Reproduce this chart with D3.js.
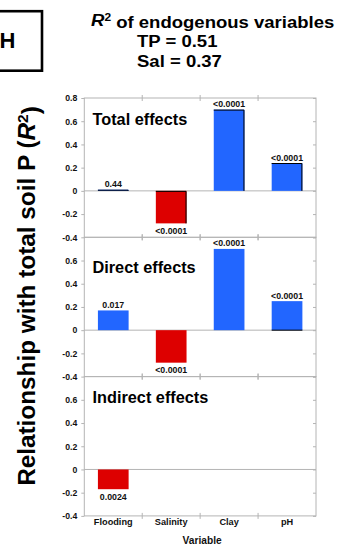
<!DOCTYPE html>
<html>
<head>
<meta charset="utf-8">
<script src="https://cdn.jsdelivr.net/npm/d3@7"></script>
<style>
  html, body { margin: 0; padding: 0; background: #fff; }
  svg { display: block; font-family: "Liberation Sans", Arial, sans-serif; font-weight: bold; }
</style>
</head>
<body>
<svg id="chart" width="351" height="548"></svg>
<script>
// Path-model effects on total soil P, one series per panel
const categories = ["Flooding", "Salinity", "Clay", "pH"];
const panelNames = ["Total effects", "Direct effects", "Indirect effects"];
const totalEffects = [0.01, -0.28, 0.70, 0.24];
const directEffects = [0.17, -0.28, 0.70, 0.25];
const indirectEffects = [-0.17, null, null, null];
const totalP = ["0.44", "<0.0001", "<0.0001", "<0.0001"];
const directP = ["0.017", "<0.0001", "<0.0001", "<0.0001"];
const indirectP = ["0.0024", null, null, null];
const yTicksFirst = [0.8, 0.6, 0.4, 0.2, 0, -0.2, -0.4];
const yTicksRest = [0.6, 0.4, 0.2, 0, -0.2, -0.4];
const r2Names = ["TP", "Sal"];
const r2Values = ["0.51", "0.37"];
const panelLetter = "H";

const series = [totalEffects, directEffects, indirectEffects];
const pLabels = [totalP, directP, indirectP];

const svg = d3.select("#chart");
const BLUE = "#2266ff", RED = "#dd0000", GRID = "#b4b4b4";

const left = 84.3, right = 316, top0 = 98, ph = 139.3;
const titleOffsets = [27, 35.8, 26.5];

const x = d3.scaleBand().domain(categories).range([left, right])
  .paddingInner(0.47).paddingOuter(0.235);
const bounds = categories.slice(1).map(c => x(c) - x.step() * x.paddingInner() / 2);

const fmt = d => d === 0 ? "0" : d.toFixed(1);

series.forEach((vals, i) => {
  const top = top0 + i * ph;
  const y = d3.scaleLinear().domain([-0.4, 0.8]).range([top + ph, top]);
  const g = svg.append("g");

  // frame
  g.append("rect").attr("x", left).attr("y", top).attr("width", right - left).attr("height", ph)
    .attr("fill", "none").attr("stroke", GRID).attr("stroke-width", 1);

  // zero line
  g.append("line").attr("x1", left).attr("x2", right).attr("y1", y(0)).attr("y2", y(0))
    .attr("stroke", GRID).attr("stroke-width", 1);

  // left axis with labels
  const ax = g.append("g").attr("transform", `translate(${left},0)`)
    .call(d3.axisLeft(y).tickValues(i === 0 ? yTicksFirst : yTicksRest)
      .tickFormat(fmt).tickSize(3).tickSizeOuter(0).tickPadding(4));
  ax.select(".domain").remove();
  ax.selectAll(".tick line").attr("stroke", GRID);
  ax.selectAll(".tick text").attr("fill", "#111").style("font-size", "8.7px")
    .style("font-family", "'Liberation Sans', Arial, sans-serif").style("font-weight", "bold");

  // right-hand inner ticks
  const axr = g.append("g").attr("transform", `translate(${right},0)`)
    .call(d3.axisRight(y).tickValues(yTicksFirst).tickFormat("").tickSize(-3).tickSizeOuter(0));
  axr.select(".domain").remove();
  axr.selectAll(".tick line").attr("stroke", GRID);

  // category boundary ticks on top and bottom edges
  [top, top + ph].forEach(yy => {
    g.selectAll(null).data(bounds).join("line")
      .attr("x1", d => d).attr("x2", d => d)
      .attr("y1", yy - 3).attr("y2", yy + 3)
      .attr("stroke", GRID);
  });

  const data = categories.map((c, k) => ({ c, v: vals[k], p: pLabels[i][k] })).filter(d => d.v != null);

  // bars
  g.selectAll(null).data(data).join("rect")
    .attr("x", d => x(d.c))
    .attr("y", d => y(Math.max(0, d.v)))
    .attr("width", x.bandwidth())
    .attr("height", d => Math.max(1.2, Math.abs(y(d.v) - y(0))))
    .attr("fill", d => d.v >= 0 ? BLUE : RED);

  // dark top and right edges on the total-effects bars
  if (i === 0) {
    g.selectAll(null).data(data).join("path")
      .attr("d", d => {
        const x0 = x(d.c), x1 = x(d.c) + x.bandwidth();
        const yt = y(Math.max(0, d.v)), yb = y(Math.min(0, d.v));
        return `M${x0},${yt + 0.5}H${x1 - 0.5}V${Math.max(yb, yt + 1.2)}`;
      })
      .attr("fill", "none").attr("stroke", "#000").attr("stroke-width", 1);
  }
  if (i === 1) {
    const d = data[3];
    g.append("line").attr("x1", x(d.c)).attr("x2", x(d.c) + x.bandwidth())
      .attr("y1", y(0)).attr("y2", y(0)).attr("stroke", "#000").attr("stroke-width", 1);
  }

  // p-value labels
  g.selectAll(null).data(data.filter(d => d.p)).join("text")
    .attr("x", d => x(d.c) + x.bandwidth() / 2)
    .attr("y", d => d.v >= 0 ? y(d.v) - 2.5 : y(d.v) + 10.5)
    .attr("text-anchor", "middle")
    .style("font-size", "8.8px")
    .attr("fill", "#111")
    .text(d => d.p);

  // panel title
  g.append("text").attr("x", 92.5).attr("y", top + titleOffsets[i])
    .style("font-size", "16.3px").attr("fill", "#000").text(panelNames[i]);
});

// category labels
const bottom = top0 + 3 * ph;
svg.selectAll(null).data(categories).join("text")
  .attr("x", d => x(d) + x.bandwidth() / 2)
  .attr("y", bottom + 9.5)
  .attr("text-anchor", "middle")
  .style("font-size", "9.2px").attr("fill", "#111")
  .text(d => d);

svg.append("text").attr("x", (left + right) / 2 + 2).attr("y", 544)
  .attr("text-anchor", "middle").style("font-size", "10.2px").attr("fill", "#111")
  .text("Variable");

// y-axis title, stretched slightly along its reading direction
const yt = svg.append("text")
  .attr("transform", "translate(35,296) rotate(-90) scale(1.035,1)")
  .attr("text-anchor", "middle")
  .style("font-size", "23.5px").attr("fill", "#000");
yt.append("tspan").text("Relationship with total soil P (");
yt.append("tspan").style("font-style", "italic").text("R");
yt.append("tspan").attr("dy", "-0.45em").style("font-size", "15px").text("2");
yt.append("tspan").attr("dy", "0.45em").text(")");

// panel letter box
svg.append("rect").attr("x", -10).attr("y", 11.2).attr("width", 52).attr("height", 59.5)
  .attr("fill", "none").attr("stroke", "#000").attr("stroke-width", 2.6);
svg.append("text").attr("x", 7.5).attr("y", 47.8).attr("text-anchor", "middle")
  .style("font-size", "22px").attr("fill", "#000").text(panelLetter);

// R² header
const h = svg.append("text").attr("transform", "translate(91,25.5) scale(1.09,1)")
  .style("font-size", "17px").attr("fill", "#000");
h.append("tspan").style("font-style", "italic").text("R");
h.append("tspan").attr("dy", "-0.42em").style("font-size", "11px").text("2");
h.append("tspan").attr("dy", "0.42em").text(" of endogenous variables");

r2Names.forEach((n, k) => {
  svg.append("text").attr("transform", `translate(137,${46.7 + k * 20.2}) scale(1.09,1)`)
    .style("font-size", "17px").attr("fill", "#000")
    .text(`${n} = ${r2Values[k]}`);
});
</script>
</body>
</html>
